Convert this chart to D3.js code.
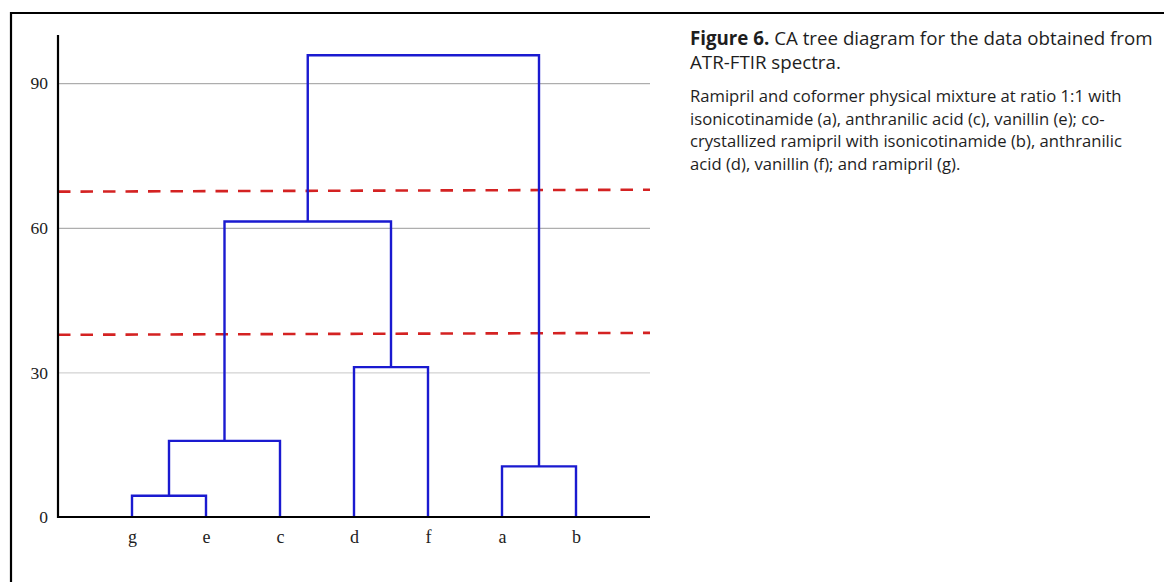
<!DOCTYPE html>
<html>
<head>
<meta charset="utf-8">
<script src="https://cdn.jsdelivr.net/npm/d3@7"></script>
<style>
  html, body { margin: 0; padding: 0; background: #fff; }
  svg { display: block; }
</style>
</head>
<body>
<svg id="chart" width="1164" height="582"></svg>
<script>
// Leaves of the cluster tree, left to right
const leaves = ["g", "e", "c", "d", "f", "a", "b"];

// Agglomeration steps: joined clusters and linkage distance
const mergeLeft   = ["g",  "ge",  "d",  "a",  "gec",   "gecdf"];
const mergeRight  = ["e",  "c",   "f",  "b",  "df",    "ab"];
const mergeName   = ["ge", "gec", "df", "ab", "gecdf", "root"];
const mergeHeight = [4.4,  15.8,  31.1, 10.5, 61.3,    95.8];

// Y-axis ticks
const yTicks = [0, 30, 60, 90];

// Cut-off levels (dashed), value at left and right end
const cutLeft  = [67.5, 37.8];
const cutRight = [67.9, 38.2];

// Caption
const captionBold = "Figure 6.";
const captionTitle = [" CA tree diagram for the data obtained from", "ATR-FTIR spectra."];
const captionBody = [
  "Ramipril and coformer physical mixture at ratio 1:1 with",
  "isonicotinamide (a), anthranilic acid (c), vanillin (e); co-",
  "crystallized ramipril with isonicotinamide (b), anthranilic",
  "acid (d), vanillin (f); and ramipril (g)."
];

const svg = d3.select("#chart");
const serif = "'Liberation Serif', 'Times New Roman', serif";
const sans = "'Source Sans Pro', 'Open Sans', 'Noto Sans', sans-serif";

// frame (top and left edges)
svg.append("path")
  .attr("d", "M11,582 V13 H1164")
  .attr("fill", "none")
  .attr("stroke", "#000")
  .attr("stroke-width", 2.2);

const x0 = 58, x1 = 650;
const x = d3.scalePoint().domain(leaves).range([x0, x1]).padding(1);
const y = d3.scaleLinear().domain([0, 100]).range([517, 35]);

// horizontal grid
svg.append("g").selectAll("line")
  .data(yTicks.filter(d => d > 0))
  .join("line")
  .attr("x1", x0).attr("x2", x1)
  .attr("y1", d => y(d) + 0.5).attr("y2", d => y(d) + 0.5)
  .attr("stroke", d => d === 30 ? "#c8c8c8" : "#9a9a9a")
  .attr("stroke-width", 1);

// y tick labels
const yAxis = d3.axisLeft(y).tickValues(yTicks).tickSize(0).tickPadding(10);
const gy = svg.append("g").attr("transform", `translate(${x0},0)`).call(yAxis);
gy.select(".domain").remove();
gy.selectAll("text")
  .style("font-family", serif)
  .style("font-size", "17.5px")
  .attr("fill", "#222");

// cut-off lines
svg.append("g").selectAll("line")
  .data(cutLeft.map((v, i) => [v, cutRight[i]]))
  .join("line")
  .attr("x1", x0).attr("x2", x1)
  .attr("y1", d => y(d[0])).attr("y2", d => y(d[1]))
  .attr("stroke", "#d42222")
  .attr("stroke-width", 2.6)
  .attr("stroke-dasharray", "12.5,10");

// dendrogram links
const nodes = {};
leaves.forEach(l => { nodes[l] = { x: x(l), h: 0 }; });
const links = mergeName.map((name, i) => {
  const L = nodes[mergeLeft[i]], R = nodes[mergeRight[i]];
  const h = mergeHeight[i];
  nodes[name] = { x: (L.x + R.x) / 2, h };
  return `M${L.x},${y(L.h)} V${y(h)} H${R.x} V${y(R.h)}`;
});
svg.append("g").selectAll("path")
  .data(links)
  .join("path")
  .attr("d", d => d)
  .attr("fill", "none")
  .attr("stroke", "#1a1ad0")
  .attr("stroke-width", 2.4)
  .attr("stroke-linejoin", "miter");

// axis lines
svg.append("line")
  .attr("x1", x0).attr("x2", x0)
  .attr("y1", y(100)).attr("y2", y(0) + 1)
  .attr("stroke", "#000").attr("stroke-width", 2.2);
svg.append("line")
  .attr("x1", x0 - 1).attr("x2", x1)
  .attr("y1", y(0)).attr("y2", y(0))
  .attr("stroke", "#000").attr("stroke-width", 2.2);

// leaf labels
const xAxis = d3.axisBottom(x).tickSize(0).tickPadding(13);
const gx = svg.append("g").attr("transform", `translate(0,${y(0)})`).call(xAxis);
gx.select(".domain").remove();
gx.selectAll("text")
  .style("font-family", serif)
  .style("font-size", "18px")
  .attr("fill", "#222");

// caption; each block is sized to its measured line width
const cap = svg.append("g").style("font-family", sans).attr("fill", "#1e1e1e");
function fitSize(textSel, targetWidth, baseSize) {
  textSel.style("font-size", baseSize + "px");
  const w = textSel.node().getComputedTextLength();
  return baseSize * targetWidth / w;
}
const t1 = cap.append("text").attr("x", 690).attr("y", 45);
t1.append("tspan").attr("font-weight", "bold").text(captionBold);
t1.append("tspan").text(captionTitle[0]);
const titleSize = fitSize(t1, 463, 18);
t1.style("font-size", titleSize + "px");
cap.append("text").attr("x", 690).attr("y", 69)
  .style("font-size", titleSize + "px").text(captionTitle[1]);

const body = cap.selectAll("text.body")
  .data(captionBody)
  .join("text")
  .attr("class", "body")
  .attr("x", 690)
  .attr("y", (d, i) => 102 + i * 22.7)
  .text(d => d);
const bodySize = fitSize(body.filter((d, i) => i === 0), 432, 15);
body.style("font-size", bodySize + "px");
</script>
</body>
</html>
